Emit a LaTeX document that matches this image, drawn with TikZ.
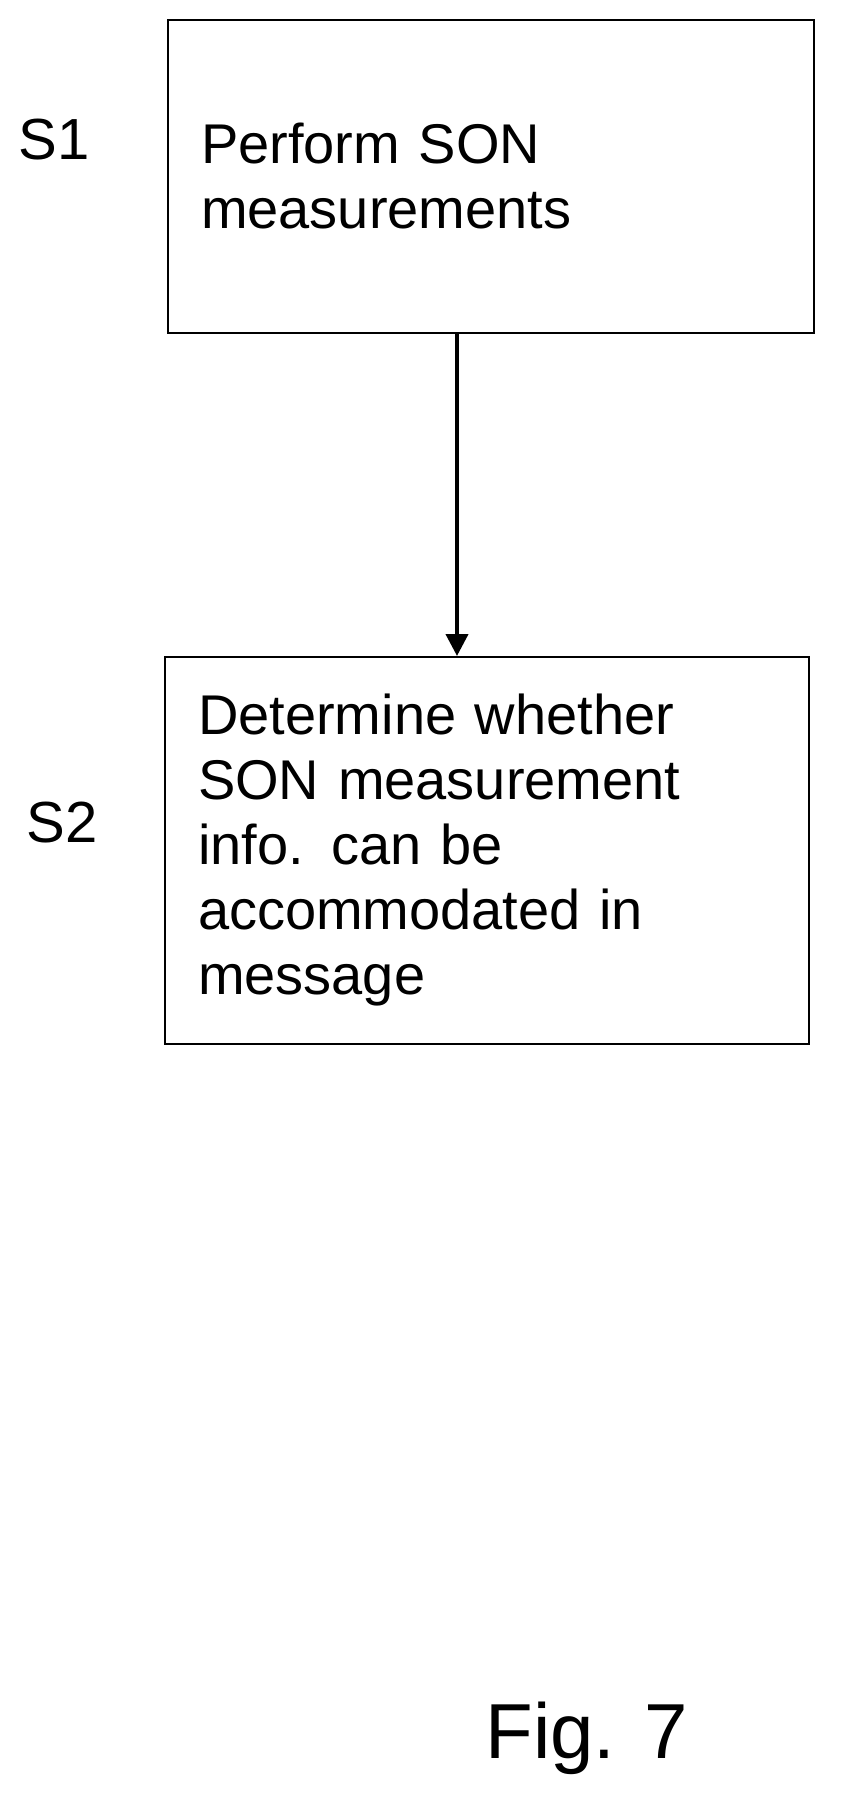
\documentclass[tikz,border=0pt]{standalone}
\usepackage{fontspec}
\setmainfont{Liberation Sans}
\usetikzlibrary{arrows.meta}
\tikzset{
  stepbox/.style={draw,line width=2pt,inner xsep=33pt,align=left,font=\fontsize{56}{65}\selectfont},
  tag/.style={font=\fontsize{58}{65}\selectfont},
  flow/.style={line width=4pt,-{Triangle[length=22pt,width=22pt]}}
}
\begin{document}
\begin{tikzpicture}[x=1pt,y=1pt]
        \useasboundingbox (0,0) rectangle (842,-1799);
        %steps
        \node[stepbox,minimum width=646pt,minimum height=313pt,text width=580pt] (s1) at (491,-176.5) {Perform SON\\measurements};
        \node[stepbox,minimum width=644pt,minimum height=387pt,text width=578pt] (s2) at (487,-850.5) {Determine whether\\SON measurement\\info. can be\\accommodated in\\message};
        %labels
        \node[tag,anchor=base] (l1) at (54,-159) {S1};
        \node[tag,anchor=base] (l2) at (62,-842) {S2};
        \node[font=\fontsize{78}{80}\selectfont,anchor=base west] (fig) at (482,-1758) {Fig. 7};
        %edges
        \coordinate (ax) at (457,0);
        \draw[flow] (s1.south -| ax) -- (s2.north -| ax);
\end{tikzpicture}
\end{document}
